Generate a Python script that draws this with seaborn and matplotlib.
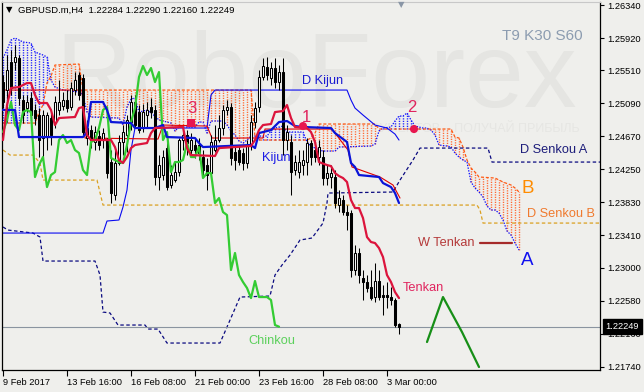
import numpy as np
import matplotlib
matplotlib.use("Agg")
import matplotlib.pyplot as plt
import matplotlib.transforms as mtrans
import seaborn as sns

# ---------------- data ----------------
bar_index = list(range(100))
opens = [1.25361,1.25259,1.25615,1.25615,1.25666,1.25132,1.25030,1.25157,1.25005,1.24941,
         1.24649,1.24661,1.24903,1.24852,1.25005,1.25056,1.25132,1.25043,1.25259,1.25450,
         1.25412,1.24649,1.24750,1.24598,1.24674,1.24623,1.24623,1.24343,1.23924,1.24331,
         1.24598,1.24687,1.24852,1.25107,1.24979,1.24776,1.24941,1.25043,1.25005,1.24153,
         1.24178,1.24521,1.24051,1.24114,1.24216,1.24623,1.24687,1.24496,1.24560,1.24560,
         1.24407,1.24305,1.24203,1.24496,1.24623,1.24776,1.25005,1.25043,1.24471,1.24496,
         1.24458,1.24331,1.24560,1.24852,1.25043,1.25425,1.25552,1.25412,1.25539,1.25361,
         1.25488,1.24623,1.24598,1.24242,1.24216,1.24305,1.24343,1.24585,1.24496,1.24407,
         1.24407,1.24140,1.24153,1.24153,1.23796,1.23860,1.23707,1.23695,1.22970,1.23186,
         1.22868,1.22817,1.22753,1.22626,1.22830,1.22652,1.22652,1.22626,1.22588,1.22284]
highs = [1.25450,1.25704,1.25768,1.25832,1.25704,1.25196,1.25196,1.25234,1.25081,1.25030,
         1.25005,1.24979,1.24979,1.25183,1.25386,1.25234,1.25259,1.25361,1.25488,1.25488,
         1.25463,1.24878,1.24814,1.24801,1.24750,1.24776,1.24649,1.24496,1.24496,1.24687,
         1.24814,1.24941,1.25196,1.25196,1.25068,1.25081,1.25107,1.25157,1.25068,1.24432,
         1.24496,1.24598,1.24305,1.24343,1.24649,1.24776,1.24750,1.24712,1.24649,1.24649,
         1.24496,1.24394,1.24687,1.24814,1.24941,1.25068,1.25132,1.25094,1.24560,1.24560,
         1.24521,1.24623,1.24941,1.25107,1.25514,1.25666,1.25679,1.25615,1.25666,1.25577,
         1.25666,1.24814,1.24687,1.24432,1.24496,1.24496,1.24649,1.24623,1.24598,1.24623,
         1.24496,1.24305,1.24305,1.24242,1.23987,1.23924,1.23796,1.23733,1.23288,1.23249,
         1.22970,1.22906,1.22970,1.23059,1.22970,1.22779,1.22817,1.22753,1.22613,1.22290]
lows = [1.25030,1.24852,1.25196,1.25514,1.25068,1.24839,1.24979,1.24878,1.24814,1.24407,
        1.24394,1.24496,1.24560,1.24776,1.24941,1.25005,1.24979,1.25005,1.25196,1.25132,
        1.24687,1.24560,1.24521,1.24496,1.24496,1.24521,1.24140,1.23822,1.23860,1.24305,
        1.24432,1.24471,1.24750,1.24776,1.24712,1.24725,1.24776,1.24903,1.24051,1.23987,
        1.24114,1.23987,1.24013,1.24089,1.24165,1.24496,1.24432,1.24420,1.24394,1.24369,
        1.24165,1.23987,1.24140,1.24471,1.24598,1.24687,1.24941,1.24305,1.24242,1.24305,
        1.24242,1.24267,1.24496,1.24776,1.24979,1.25386,1.25386,1.25323,1.25285,1.25259,
        1.24432,1.24496,1.23924,1.24178,1.24140,1.24178,1.24178,1.24305,1.24343,1.24305,
        1.24051,1.24051,1.24013,1.23758,1.23707,1.23669,1.23478,1.22881,1.22906,1.22804,
        1.22588,1.22690,1.22588,1.22563,1.22588,1.22397,1.22486,1.22524,1.22245,1.22160]
closes = [1.25107,1.25514,1.25285,1.25679,1.25157,1.24941,1.25107,1.24941,1.24903,1.24623,
          1.24941,1.24941,1.24687,1.25107,1.25107,1.25132,1.25030,1.25285,1.25386,1.25196,
          1.24725,1.24776,1.24623,1.24725,1.24560,1.24712,1.24203,1.23949,1.24331,1.24598,
          1.24725,1.24878,1.25107,1.24814,1.24750,1.24979,1.25005,1.24979,1.24153,1.24305,
          1.24407,1.24025,1.24178,1.24216,1.24623,1.24687,1.24585,1.24623,1.24496,1.24458,
          1.24242,1.24178,1.24598,1.24623,1.24776,1.25005,1.25043,1.24394,1.24369,1.24343,
          1.24331,1.24560,1.24852,1.25030,1.25425,1.25565,1.25450,1.25539,1.25361,1.25488,
          1.24623,1.24725,1.24216,1.24343,1.24343,1.24369,1.24585,1.24407,1.24407,1.24534,
          1.24140,1.24203,1.24203,1.23822,1.23885,1.23707,1.23669,1.22970,1.23186,1.22906,
          1.22817,1.22741,1.22613,1.22830,1.22626,1.22626,1.22626,1.22588,1.22270,1.22249]

tenkan_x = [0,1,2,4,6,7,8,9,11,12,13,14,18,19,20,21,22,27,28,29,30,31,32,33,36,37,38,45,46,47,
            53,54,62,63,64,65,67,68,70,71,72,73,76,77,78,79,81,82,83,84,85,86,87,88,89,90,91,92,
            93,94,95,96,97,98,99]
tenkan = [1.24623,1.25068,1.25285,1.25297,1.25348,1.25348,1.25196,1.25094,1.25094,1.25005,
          1.24814,1.24903,1.24916,1.25030,1.25043,1.24687,1.24623,1.24623,1.24534,1.24369,
          1.24331,1.24407,1.24521,1.24560,1.24585,1.24712,1.24776,1.24789,1.24521,1.24432,
          1.24420,1.24521,1.24547,1.24623,1.24750,1.24814,1.24827,1.24979,1.24992,1.25068,
          1.24903,1.24789,1.24776,1.24725,1.24598,1.24343,1.24305,1.24292,1.24203,1.24165,
          1.24140,1.24089,1.23860,1.23758,1.23758,1.23631,1.23389,1.23326,1.23313,1.23249,
          1.23135,1.22906,1.22817,1.22690,1.22613]
kijun_x = [0,3,4,20,21,22,25,26,27,32,33,38,40,41,48,49,50,62,63,64,67,69,71,73,75,82,83,86,
           87,88,89,94,95,97,98,99]
kijun = [1.25005,1.25005,1.24661,1.24661,1.24725,1.25107,1.25107,1.25005,1.24852,1.24839,
         1.24776,1.24776,1.24814,1.24661,1.24649,1.24585,1.24534,1.24560,1.24521,1.24712,
         1.24750,1.24852,1.24865,1.24801,1.24789,1.24776,1.24712,1.24598,1.24331,1.24280,
         1.24178,1.24153,1.24076,1.24025,1.23949,1.23822]
senkou_a_x = [0,1,2,3,5,7,8,10,11,12,13,15,19,20,21,22,29,30,31,32,33,34,36,38,39,42,43,44,48,49,
              50,51,52,55,56,57,58,59,60,61,62,66,67,68,70,71,75,76,77,79,80,83,84,92,93,94,95,97,
              98,99,100,101,102,103,105,106,107,108,109,111,112,113,114,115,116,117,118,119,120,
              121,122,123,124,125,126,127,128,129]
senkou_a = [1.25666,1.25768,1.25895,1.25921,1.25870,1.25857,1.25743,1.25704,1.25679,1.25386,
            1.25297,1.25259,1.25234,1.25196,1.24979,1.24916,1.24903,1.24814,1.25043,1.25145,
            1.25157,1.24979,1.25005,1.24928,1.24878,1.24839,1.24738,1.24789,1.24789,1.24852,
            1.24852,1.24712,1.24865,1.24865,1.24814,1.24738,1.24687,1.24610,1.24585,1.24623,
            1.24674,1.24674,1.24738,1.24776,1.24801,1.24725,1.24725,1.24598,1.24547,1.24496,
            1.24483,1.24483,1.24534,1.24547,1.24572,1.24738,1.24776,1.24789,1.24865,1.24928,
            1.24928,1.24967,1.24878,1.24801,1.24776,1.24776,1.24750,1.24687,1.24560,1.24547,
            1.24534,1.24458,1.24407,1.24369,1.24343,1.24089,1.24013,1.23962,1.23898,1.23784,
            1.23733,1.23733,1.23695,1.23606,1.23466,1.23415,1.23313,1.23224]
senkou_b_x = [0,8,9,10,11,12,13,19,20,62,63,64,76,77,78,79,93,94,112,113,114,115,116,117,118,
              119,123,125,127,128,129]
senkou_b = [1.24839,1.24839,1.24979,1.25068,1.25348,1.25437,1.25577,1.25590,1.25259,1.25259,
            1.24661,1.24623,1.24623,1.24649,1.24712,1.24827,1.24827,1.24763,1.24763,1.24661,
            1.24649,1.24534,1.24369,1.24267,1.24216,1.24153,1.24140,1.24089,1.24051,1.24013,
            1.23962]
d_kijun_x = [0,25,26,29,30,31,32,33,51,52,53,86,87,88,90,93,96,98,99]
d_kijun = [1.23440,1.23440,1.23593,1.23606,1.23771,1.23987,1.24496,1.24776,1.24776,1.25196,
           1.25259,1.25259,1.25132,1.25030,1.24941,1.24814,1.24776,1.24699,1.24623]
d_senkou_a_x = [0,1.25,7.5,9.25,10,23,24.25,25,26.75,28.75,35.5,36.25,38.75,41,54.25,56,59.25,
                66.75,68,69.75,71.75,74.25,77.25,80,81,81.25,97.5,99.25,102.5,104.25,121.25,
                122.25,149.25]
d_senkou_a = [1.23517,1.23478,1.23440,1.23389,1.23084,1.23084,1.22906,1.22435,1.22423,1.22270,
              1.22270,1.22219,1.22219,1.22041,1.22041,1.22245,1.22626,1.22639,1.22906,1.23033,
              1.23160,1.23351,1.23377,1.23567,1.23822,1.23949,1.23962,1.24114,1.24369,1.24521,
              1.24521,1.24343,1.24343]
d_senkou_b_x = [0,1.75,7.5,9.25,10,23.5,25,118.5,119.25,120,149.25]
d_senkou_b = [1.24496,1.24432,1.24432,1.24331,1.24114,1.24114,1.23796,1.23796,1.23733,1.23567,
              1.23567]
d_tenkan_x = [0,19.75,20.5,38.75,40,51,52.25,65,65.5,82.25,83,86.25,87.25,94.25,97.5,99.25]
d_tenkan = [1.25259,1.25259,1.24649,1.24636,1.24814,1.24801,1.24649,1.24649,1.24763,1.24763,
            1.24712,1.24496,1.24280,1.24153,1.24051,1.23885]
w_tenkan_x = [119.25, 127.25]
w_tenkan = [1.23313, 1.23313]
forecast_x = [106, 110, 114.75, 119]
forecast = [1.22054, 1.22626, 1.22181, 1.21736]
signal_x = [75, 102.75, 47]
signal_y = [1.24801, 1.24763, 1.24839]
signal_text_x = [75.9, 102.25, 47.25]
signal_text_y = [1.24916, 1.25043, 1.25018]
signal_labels = ["1", "2", "3"]
last_price = 1.22249
price_ticks = [1.26340, 1.25920, 1.25510, 1.25090, 1.24670, 1.24250, 1.23830,
               1.23410, 1.23000, 1.22580, 1.22160, 1.21740]
time_ticks = [0, 16, 32, 48, 64, 80, 96]
time_labels = ["9 Feb 2017", "13 Feb 16:00", "16 Feb 08:00", "21 Feb 00:00",
               "23 Feb 16:00", "28 Feb 08:00", "3 Mar 00:00"]
title_text = "GBPUSD.m,H4  1.22284 1.22290 1.22160 1.22249"

# ---------------- style ----------------
sns.set_theme(style="white")
plt.rcParams["font.family"] = ["Liberation Sans", "DejaVu Sans"]
plt.rcParams["lines.scale_dashes"] = False
plt.rcParams["axes.linewidth"] = 0.8

BG = "#EFEFEC"
fig = plt.figure(figsize=(6.44, 3.92), dpi=100, facecolor=BG)
ax = fig.add_axes([2 / 644, 22 / 392, 598 / 644, 368 / 392])
ax.set_facecolor(BG)

bars = np.array(bar_index)
o = np.array(opens); h = np.array(highs); l = np.array(lows); c = np.array(closes)

# watermark
ax.text(316 / 644, 1 - 107 / 392, "RoboForex", transform=fig.transFigure, fontsize=76,
        color="#E5E5E2", ha="center", va="baseline", zorder=0.2)
ax.text(580 / 644, 1 - 132 / 392, "ИНСТРУМЕНТОВ – ПОЛУЧАЙ ПРИБЫЛЬ", transform=fig.transFigure,
        fontsize=9, color="#E6E6E3", ha="right", va="baseline", zorder=0.2)

# kumo hatch (MT4-style dotted verticals)
kb = np.arange(130)
a_i = np.interp(kb, senkou_a_x, senkou_a)
b_i = np.interp(kb, senkou_b_x, senkou_b)
up = a_i >= b_i
dot = (0, (0.9, 0.9))
ax.vlines(kb[up], b_i[up], a_i[up], colors="#2424FF", linestyles=[dot], linewidth=1.0, zorder=1)
ax.vlines(kb[~up], a_i[~up], b_i[~up], colors="#FF6A35", linestyles=[dot], linewidth=1.0, zorder=1)


def draw(xs, ys, color, lw, ls="-", z=3):
    sns.lineplot(x=list(xs), y=list(ys), ax=ax, color=color, linewidth=lw, linestyle=ls,
                 estimator=None, sort=False, zorder=z)


draw(senkou_a_x, senkou_a, "#1010FF", 0.9, (0, (1.0, 1.0)), 1.2)
draw(senkou_b_x, senkou_b, "#FF5A14", 0.9, (0, (2.2, 1.3)), 1.2)
draw(d_senkou_a_x, d_senkou_a, "#0A0A80", 0.9, (0, (2.5, 1.8)), 1.5)
draw(d_senkou_b_x, d_senkou_b, "#DAA020", 0.9, (0, (2.5, 1.8)), 1.5)
draw(d_kijun_x, d_kijun, "#0A0AF0", 0.8, "-", 1.5)
draw(d_tenkan_x, d_tenkan, "#E00000", 0.8, "-", 1.6)

ax.axhline(last_price, color="#8A94A0", lw=0.8, zorder=1.8)

# candles
ax.vlines(bars, l, h, colors="black", linewidth=0.75, zorder=2)
bull = c >= o
ax.bar(bars[bull], (c - o)[bull], bottom=o[bull], width=0.6, color="white",
       edgecolor="black", linewidth=0.75, zorder=2.2)
ax.bar(bars[~bull], (o - c)[~bull], bottom=c[~bull], width=0.6, color="black",
       edgecolor="black", linewidth=0.75, zorder=2.2)

# main ichimoku lines
draw(bars[:70], c[30:], "#33CC33", 1.6, "-", 3)           # Chinkou
draw(kijun_x, kijun, "#0A14D8", 1.6, "-", 3.1)
draw(tenkan_x, tenkan, "#DC143C", 1.6, "-", 3.2)
draw(w_tenkan_x, w_tenkan, "#A52A2A", 1.6, "-", 3)
draw(forecast_x, forecast, "#178F17", 1.6, "-", 3)

# signal markers
for sx, sy, mk in zip(signal_x, signal_y, ["o", "o", "s"]):
    sns.scatterplot(x=[sx], y=[sy], ax=ax, marker=mk, s=34, color="#E8174F",
                    edgecolor="none", zorder=4)
for tx, ty, lab in zip(signal_text_x, signal_text_y, signal_labels):
    ax.text(tx, ty, lab, color="#E0245E", fontsize=12, ha="center", va="center", zorder=5)

# labels
lab_kw = dict(fontsize=9.2, ha="left", va="center", zorder=5)
ax.text(64.75, 1.24394, "Kijun", color="#1A1AE6", **lab_kw)
ax.text(74.75, 1.25374, "D Kijun", color="#1A1AD0", **lab_kw)
ax.text(100.0, 1.22741, "Tenkan", color="#E0245E", **lab_kw)
ax.text(61.25, 1.22067, "Chinkou", color="#5CD05C", **lab_kw)
ax.text(129.25, 1.24496, "D Senkou A", color="#1C1C7A", **lab_kw)
ax.text(131.0, 1.23682, "D Senkou B", color="#F07A2E", **lab_kw)
ax.text(103.75, 1.23313, "W Tenkan", color="#B53A3A", **lab_kw)
ax.text(129.6, 1.24013, "B", color="#FF8C00", fontsize=13.5, ha="left", va="center", zorder=5)
ax.text(129.6, 1.23096, "A", color="#1010F0", fontsize=13.5, ha="left", va="center", zorder=5)

# axes
ax.set_xlim(-0.25, 149.25)
ax.set_ylim(1.21698, 1.26379)
ax.set_xlabel("")
ax.set_ylabel("")
ax.yaxis.tick_right()
ax.set_yticks(price_ticks)
ax.set_yticklabels([f"{v:.5f}" for v in price_ticks])
ax.set_xticks(time_ticks)
ax.set_xticklabels(time_labels, ha="left")
ax.tick_params(axis="y", which="both", direction="out", length=3, width=0.8, pad=2,
               labelsize=6.7, colors="black", left=False, right=True, labelright=True,
               labelleft=False)
ax.tick_params(axis="x", direction="out", length=4, width=0.8, pad=1.5, labelsize=6.7,
               colors="black", bottom=True)
for s in ["left", "bottom", "right"]:
    ax.spines[s].set_color("black")
    ax.spines[s].set_linewidth(0.9)
ax.spines["top"].set_color("#C8C8C8")
ax.grid(False)

# current price tag
tr = mtrans.blended_transform_factory(ax.transAxes, ax.transData)
ax.text(1.0095, last_price, "1.22249", transform=tr, color="white", fontsize=6.7,
        ha="left", va="center", zorder=6,
        bbox=dict(boxstyle="square,pad=0.3", fc="black", ec="black"))

# header texts
fig.text(9 / 644, 1 - 10 / 392, "▼", fontsize=6, color="black", ha="center", va="center",
         family=["DejaVu Sans"])
fig.text(18 / 644, 1 - 10 / 392, title_text, fontsize=6.8, color="black", ha="left",
         va="center")
ax.text(502 / 644, 1 - 36 / 392, "T9 K30 S60", transform=fig.transFigure, fontsize=11,
        color="#8C9CB0", ha="left", va="center", zorder=5)
fig.text(401 / 644, 1 - 5 / 392, "▼", fontsize=6, color="#8A96A6", ha="center", va="center",
         family=["DejaVu Sans"])

fig.savefig("out.png", dpi=100, facecolor=BG)
